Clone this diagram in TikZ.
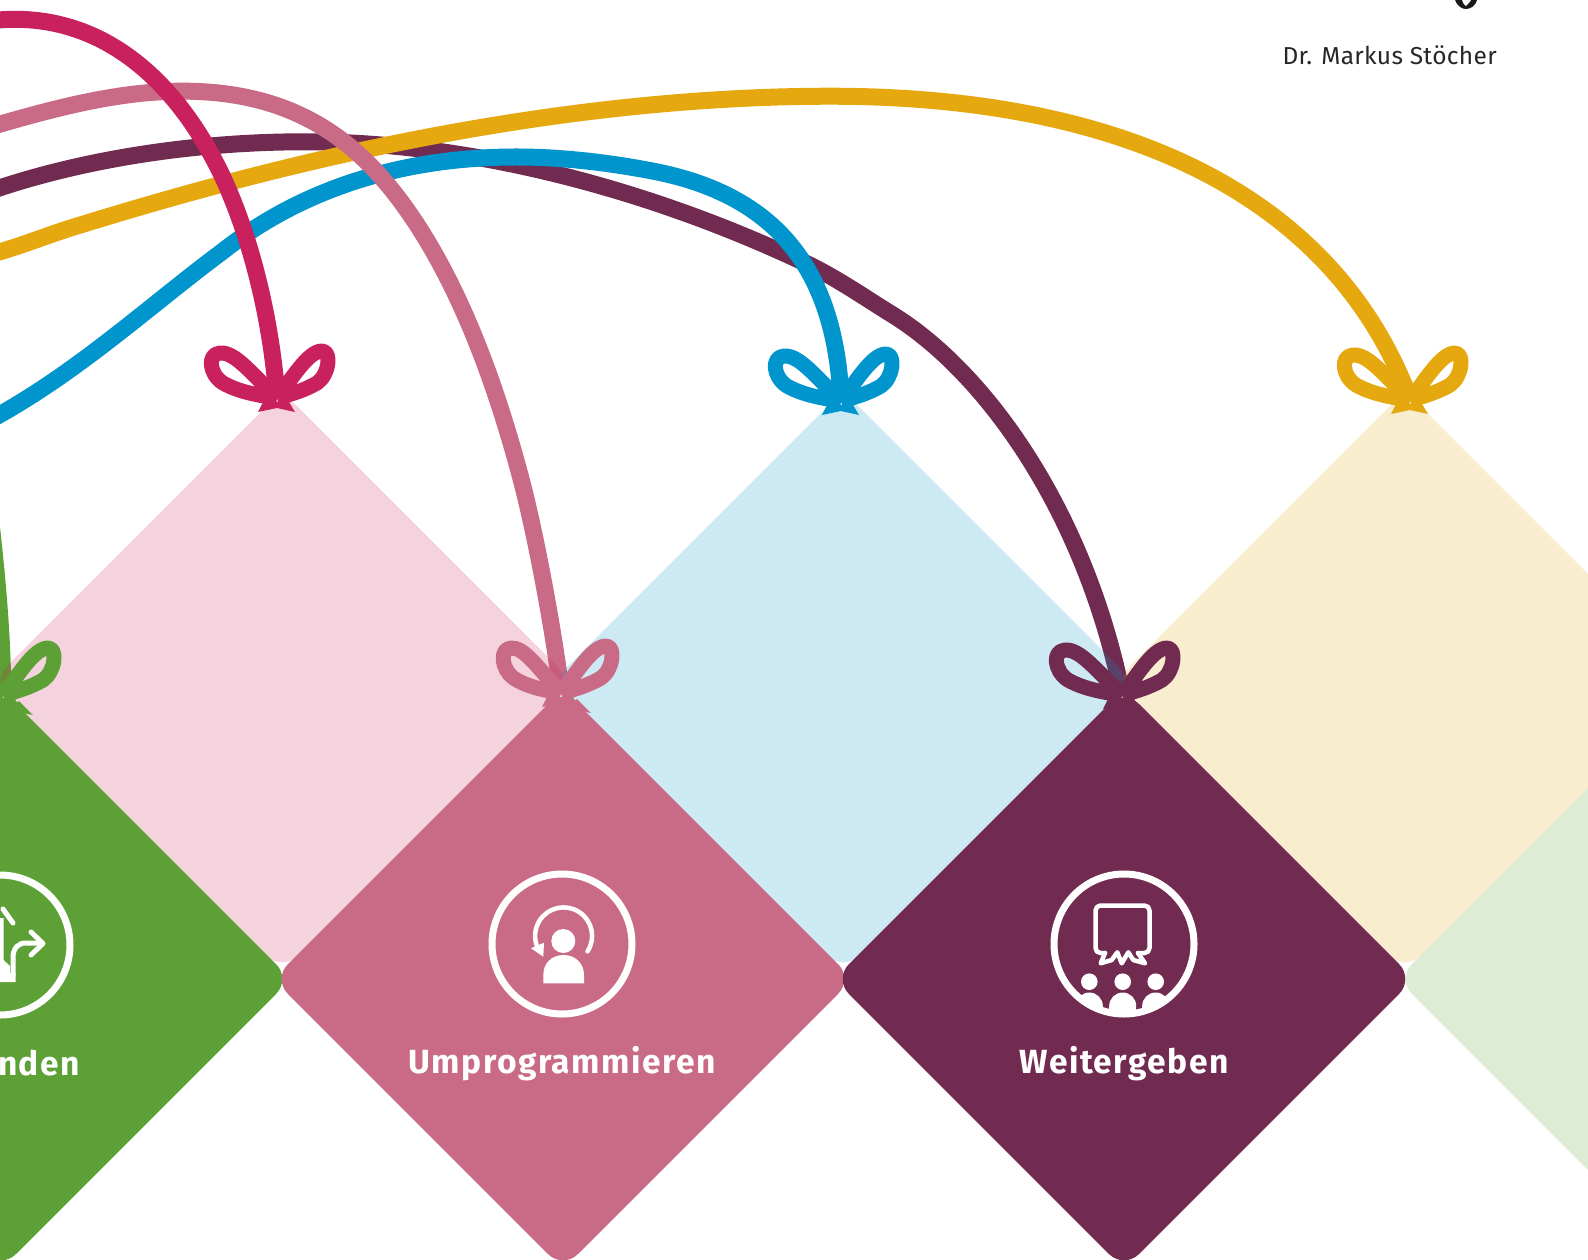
\documentclass[tikz,border=0pt]{standalone}
\usepackage{fontspec}
\usetikzlibrary{shapes.geometric}
\newfontfamily\labfont[LetterSpace=4.5]{Fira Sans}
\newfontfamily\namefont[LetterSpace=1.35]{Fira Sans}
\definecolor{cmag}{HTML}{C9215D}
\definecolor{crose}{HTML}{C96B86}
\definecolor{cpur}{HTML}{722B50}
\definecolor{cblue}{HTML}{0095CC}
\definecolor{cgold}{HTML}{E5A90F}
\definecolor{cgreen}{HTML}{5CA036}
\tikzset{
  tile/.style={diamond,inner sep=0pt,outer sep=0pt,minimum width=580pt,minimum height=580pt,rounded corners=21pt,fill=#1},
  softtile/.style={tile=#1,fill opacity=.2},
  ribbon/.style={line width=17pt,draw=#1,line cap=butt},
  looptie/.style={line width=15pt,draw=#1,miter limit=2,line join=round},
  lab/.style={text=white,font={\labfont\bfseries\fontsize{33.5}{38}\selectfont},inner sep=0pt,anchor=base},
  ring/.style={draw=white,line width=7pt,fill=none},
  iconline/.style={draw=white,line width=4.5pt,line cap=round,line join=round,fill=none}
}
\newcommand\tiebow[4]{%
  \begin{scope}[shift={(#1)}]
    \draw[looptie=#2,xscale=#4] (0,0) .. controls (-27,-26) and (-42,-46) .. (-57,-45) .. controls (-70,-44) and (-68,-24) .. (-54,-15) .. controls (-40,-7) and (-22,-3) .. (0,0);
    \draw[looptie=#2] (0,0) .. controls (14,-18) and (31,-47) .. (45,-47) .. controls (55,-47) and (52,-23) .. (40,-15) .. controls (30,-9) and (16,-4) .. (0,0);
    \fill[#2] (-14,4) -- (-19,14) -- (0,10) -- (18,14) -- (12,4) -- cycle;
    #3
  \end{scope}}
\begin{document}
\begin{tikzpicture}[x=1pt,y=-1pt]
\useasboundingbox (0,0) rectangle (1588,1259);
\clip (0,0) rectangle (1588,1259);
\fill[white] (0,0) rectangle (1588,1259);
% tie points
\coordinate (kMag) at (277,398);
\coordinate (kBlue) at (841,401);
\coordinate (kGold) at (1410,400);
\coordinate (kRose) at (561,693);
\coordinate (kPur) at (1122,695);
\coordinate (kGreen) at (3,695);
% ribbons (bottom to top: purple, gold, blue, rose, magenta)
\begin{scope}[scale=1.0128]
\coordinate (sMag) at (-5,20);
\coordinate (sRose) at (-5,124);
\coordinate (sPur) at (-5,187);
\coordinate (sGold) at (-5,250);
\coordinate (sBlue) at (-5,412);
\coordinate (sGreen) at (-9,515);
\draw[ribbon=cpur] (sPur) .. controls (90,155) and (200,140) .. (300,140) .. controls (480,140) and (660,195) .. (800,262) .. controls (830,277) and (858,296.5) .. (880,310) .. controls (970,365) and (1070,500) .. (kPur);
\draw[ribbon=cgold] (sGold) .. controls (20,243) and (45,233) .. (70,225) .. controls (200,185) and (500,95) .. (820,95) .. controls (1120,95) and (1320,200) .. (kGold);
\draw[ribbon=cblue] (sBlue) .. controls (80,365) and (150,300) .. (220,248) .. controls (300,185) and (400,155) .. (510,155) .. controls (560,155) and (610,162) .. (650,170) .. controls (770,195) and (825,270) .. (kBlue);
\draw[ribbon=crose] (sRose) .. controls (60,105) and (120,90) .. (180,90) .. controls (280,90) and (340,130) .. (385,185) .. controls (450,265) and (490,380) .. (515,475) .. controls (529,528) and (548,630) .. (kRose);
\draw[ribbon=cmag] (sMag) .. controls (100,10) and (175,80) .. (220,175) .. controls (250,240) and (268,320) .. (kMag);
\draw[ribbon=cgreen] (sGreen) .. controls (-3,570) and (2,620) .. (kGreen);
\end{scope}
% pale tiles
\node[softtile=cmag] (tMag) at (282,681) {};
\node[softtile=cblue] (tBlue) at (843,681) {};
\node[softtile=cgold] (tGold) at (1405,681) {};
\node[softtile=cgreen] (tLeaf) at (1687,979) {};
% strong tiles
\node[tile=cgreen] (tGreen) at (1,979) {};
\node[tile=crose] (tRose) at (563,979) {};
\node[tile=cpur] (tPur) at (1124,979) {};
% bows
\tiebow{kMag}{cmag}{}{1}
\tiebow{kBlue}{cblue}{}{1}
\tiebow{kGold}{cgold}{}{1}
\tiebow{kRose}{crose}{\fill[crose] (16,6) -- (30,20) -- (20,18) -- (8,12) -- cycle;}{.88}
\tiebow{kPur}{cpur}{}{1}
\tiebow{kGreen}{cgreen}{\fill[cgreen] (16,6) -- (30,20) -- (20,18) -- (8,12) -- cycle;}{1}
% rings
\node[ring,circle,minimum size=140pt,inner sep=0pt] (rGreen) at (0,945) {};
\node[ring,circle,minimum size=140pt,inner sep=0pt] (rRose) at (562,944) {};
\node[ring,circle,minimum size=140pt,inner sep=0pt] (rPur) at (1124,944) {};
% labels
\node[lab,anchor=base east] (lGreen) at (80,1075) {nden};
\node[lab] (lRose) at (562,1073) {Umprogrammieren};
\node[lab] (lPur) at (1124,1073) {Weitergeben};
\node[inner sep=0pt,anchor=base east,text=black!85,font={\namefont\fontsize{24.5}{29}\selectfont}] (lName) at (1497,64) {Dr. Markus Stöcher};
% icon: arrows
\draw[iconline,line width=5pt] (13,975) -- (13,958) .. controls (13,948) and (18,943) .. (26,943) -- (42,943);
\draw[iconline,line width=5pt] (31,932) -- (43,943.5) -- (31,955);
\draw[iconline,line width=5pt] (3,909) -- (13,923);
\fill[white] (0,918) -- (3.5,918) -- (3.5,960) -- (10,966) -- (10,973) -- (15.5,973) -- (15.5,982) -- (0,982) -- cycle;
% icon: person
\fill[white] (563.3,941) circle (12);
\fill[white] (543.3,983.3) -- (543.3,975) .. controls (543.3,963) and (552,955) .. (563.5,955) .. controls (575,955) and (584,963) .. (584,975) -- (584,983.3) -- cycle;
\draw[iconline] (587.5,951.4) arc[start angle=33,end angle=-205,radius=28.5];
\fill[white] (531,948.3) -- (544,942.7) -- (543.3,956.7) -- cycle;
% icon: presenter
\draw[iconline,rounded corners=5pt] (1105,953) -- (1095.5,953) -- (1095.5,905.5) -- (1149.5,905.5) -- (1149.5,953) -- (1138,953);
\draw[iconline] (1105,953) -- (1100.7,963.3) -- (1111.7,960) -- (1117.3,952.3) -- (1121.7,963.3) -- (1128.3,952.3) -- (1133.3,960) -- (1145,963.3) -- (1138,953);
\begin{scope}
\clip (1124,944) circle (71);
\foreach \px in {1089.3,1122.7,1155.7}{
  \fill[white] (\px,981.7) circle (8.3);
  \fill[white] (\px,1006) circle (13.5);
  \fill[white] (\px-13.5,1006) rectangle (\px+13.5,1025);
}
\end{scope}
% head fragment
\fill[black!90] (1455,0) .. controls (1457,6) and (1462,9) .. (1466,9) .. controls (1471,9) and (1476,5) .. (1477,0) -- cycle;
\fill[white] (1462,0) .. controls (1463,3) and (1464,5) .. (1466,6) .. controls (1468,4) and (1470,2) .. (1471,0) -- cycle;
\end{tikzpicture}
\end{document}
